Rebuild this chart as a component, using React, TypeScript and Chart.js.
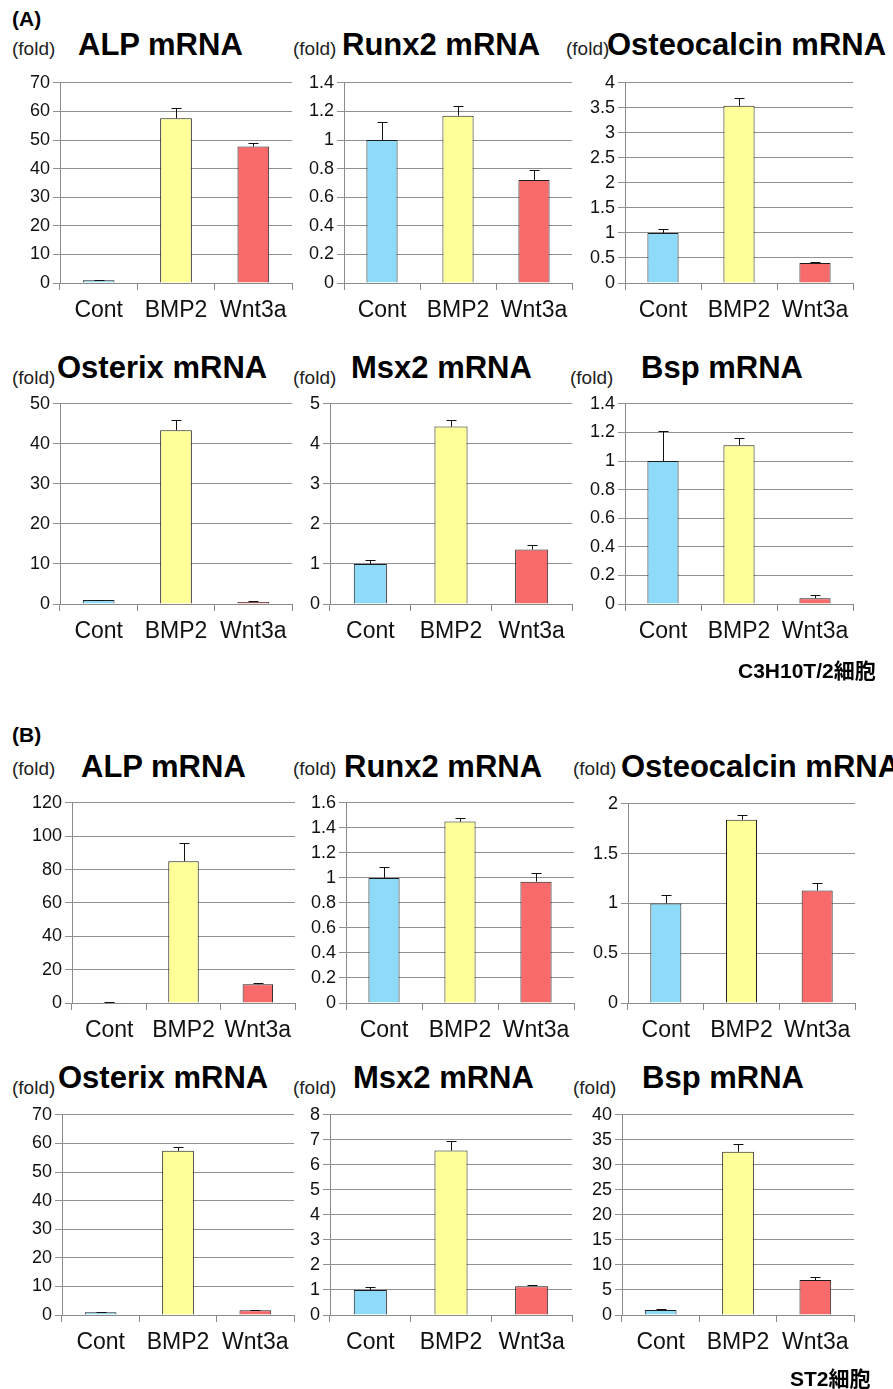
import React, { useEffect, useRef } from 'react';
import { Chart, registerables } from 'chart.js';

Chart.register(...registerables);

// ---------- data ----------
const categories = ['Cont', 'BMP2', 'Wnt3a'];
const barColors = ['#8DDBF8', '#FFFF99', '#F96B6B'];

// (A) C3H10T/2 cells
const alpA = [1.0, 57.6, 47.7];
const alpAErr = [0.2, 3.5, 1.3];
const runx2A = [1.0, 1.17, 0.72];
const runx2AErr = [0.125, 0.065, 0.07];
const osteocalcinA = [1.0, 3.54, 0.4];
const osteocalcinAErr = [0.08, 0.16, 0.02];
const osterixA = [1.0, 43.4, 0.5];
const osterixAErr = [0.1, 2.5, 0.2];
const msx2A = [1.0, 4.43, 1.36];
const msx2AErr = [0.1, 0.17, 0.12];
const bspA = [1.0, 1.11, 0.04];
const bspAErr = [0.21, 0.05, 0.02];

// (B) ST2 cells
const alpB = [0.5, 85.0, 11.2];
const alpBErr = [0.1, 11.0, 0.5];
const runx2B = [1.0, 1.45, 0.97];
const runx2BErr = [0.09, 0.03, 0.07];
const osteocalcinB = [1.0, 1.84, 1.13];
const osteocalcinBErr = [0.085, 0.05, 0.075];
const osterixB = [1.0, 57.4, 1.7];
const osterixBErr = [0.1, 1.4, 0.1];
const msx2B = [1.0, 6.57, 1.15];
const msx2BErr = [0.1, 0.4, 0.04];
const bspB = [1.0, 32.6, 7.0];
const bspBErr = [0.1, 1.6, 0.6];

// y-axis tick ranges
const yMaxA = [70, 1.4, 4, 50, 5, 1.4];
const yStepA = [10, 0.2, 0.5, 10, 1, 0.2];
const yMaxB = [120, 1.6, 2, 70, 8, 40];
const yStepB = [20, 0.2, 0.5, 10, 1, 5];

// ---------- layout ----------
type Box = { x0: number; x1: number; y0: number; y1: number };
const boxes: Box[] = [
  { x0: 60, x1: 292, y0: 81, y1: 283 },
  { x0: 344, x1: 572, y0: 81, y1: 283 },
  { x0: 625, x1: 853, y0: 81, y1: 283 },
  { x0: 60, x1: 292, y0: 402, y1: 604 },
  { x0: 330, x1: 572, y0: 402, y1: 604 },
  { x0: 625, x1: 853, y0: 402, y1: 604 },
  { x0: 72, x1: 295, y0: 801, y1: 1003 },
  { x0: 346, x1: 574, y0: 801, y1: 1003 },
  { x0: 628, x1: 855, y0: 802, y1: 1003 },
  { x0: 62, x1: 294, y0: 1113, y1: 1315 },
  { x0: 330, x1: 572, y0: 1113, y1: 1315 },
  { x0: 622, x1: 854, y0: 1113, y1: 1315 },
];

const panelValues = [alpA, runx2A, osteocalcinA, osterixA, msx2A, bspA, alpB, runx2B, osteocalcinB, osterixB, msx2B, bspB];
const panelErrors = [alpAErr, runx2AErr, osteocalcinAErr, osterixAErr, msx2AErr, bspAErr, alpBErr, runx2BErr, osteocalcinBErr, osterixBErr, msx2BErr, bspBErr];
const panelMax = [...yMaxA, ...yMaxB];
const panelStep = [...yStepA, ...yStepB];

const FONT = '"Liberation Sans", Arial, "Noto Sans CJK JP", sans-serif';

type Lbl = { t: string; x: number; y: number; s: number; b?: boolean };
const labels: Lbl[] = [
  { t: '(A)', x: 12, y: 18, s: 21, b: true },
  { t: '(fold)', x: 12, y: 48, s: 19 },
  { t: 'ALP mRNA', x: 78, y: 44, s: 31, b: true },
  { t: '(fold)', x: 293, y: 48, s: 19 },
  { t: 'Runx2 mRNA', x: 342, y: 44, s: 31, b: true },
  { t: '(fold)', x: 566, y: 48, s: 19 },
  { t: 'Osteocalcin mRNA', x: 607, y: 44, s: 31, b: true },
  { t: '(fold)', x: 12, y: 377, s: 19 },
  { t: 'Osterix mRNA', x: 57, y: 367, s: 31, b: true },
  { t: '(fold)', x: 293, y: 377, s: 19 },
  { t: 'Msx2 mRNA', x: 351, y: 367, s: 31, b: true },
  { t: '(fold)', x: 570, y: 377, s: 19 },
  { t: 'Bsp mRNA', x: 641, y: 367, s: 31, b: true },
  { t: 'C3H10T/2細胞', x: 738, y: 670, s: 21, b: true },
  { t: '(B)', x: 12, y: 734, s: 21, b: true },
  { t: '(fold)', x: 12, y: 768, s: 19 },
  { t: 'ALP mRNA', x: 81, y: 766, s: 31, b: true },
  { t: '(fold)', x: 293, y: 768, s: 19 },
  { t: 'Runx2 mRNA', x: 344, y: 766, s: 31, b: true },
  { t: '(fold)', x: 573, y: 768, s: 19 },
  { t: 'Osteocalcin mRNA', x: 621, y: 766, s: 31, b: true },
  { t: '(fold)', x: 12, y: 1087, s: 19 },
  { t: 'Osterix mRNA', x: 58, y: 1077, s: 31, b: true },
  { t: '(fold)', x: 293, y: 1087, s: 19 },
  { t: 'Msx2 mRNA', x: 353, y: 1077, s: 31, b: true },
  { t: '(fold)', x: 573, y: 1087, s: 19 },
  { t: 'Bsp mRNA', x: 642, y: 1077, s: 31, b: true },
  { t: 'ST2細胞', x: 790, y: 1378, s: 21, b: true },
];

const PADL = 60;
const PADT = 12;
const PADR = 12;
const PADB = 48;

function fmt(v: number | string) {
  const n = Number(v);
  return String(Number(n.toFixed(3)));
}

function makeErrorPlugin(errors: number[]) {
  return {
    id: 'errorBars',
    afterDatasetsDraw(chart: any) {
      const meta = chart.getDatasetMeta(0);
      const ys = chart.scales.y;
      const ctx = chart.ctx;
      const vals = chart.data.datasets[0].data as number[];
      ctx.save();
      ctx.strokeStyle = '#111';
      ctx.lineWidth = 1;
      meta.data.forEach((bar: any, i: number) => {
        const e = errors[i];
        if (!e) return;
        const x = Math.round(bar.x) + 0.5;
        const yTop = ys.getPixelForValue(vals[i]);
        const yErr = Math.round(ys.getPixelForValue(vals[i] + e)) + 0.5;
        ctx.beginPath();
        ctx.moveTo(x, yTop);
        ctx.lineTo(x, yErr);
        ctx.moveTo(x - 5, yErr);
        ctx.lineTo(x + 5, yErr);
        ctx.stroke();
      });
      ctx.restore();
    },
  };
}

function Panel({ idx }: { idx: number }) {
  const ref = useRef<HTMLCanvasElement>(null);
  const b = boxes[idx];
  const w = b.x1 - b.x0 + PADL + PADR;
  const h = b.y1 - b.y0 + PADT + PADB;
  useEffect(() => {
    if (!ref.current) return;
    const chart = new Chart(ref.current, {
      type: 'bar',
      data: {
        labels: categories,
        datasets: [
          {
            data: panelValues[idx],
            backgroundColor: barColors,
            borderColor: '#1e1e1e',
            borderWidth: 1,
            categoryPercentage: 1,
            barPercentage: 0.41,
          },
        ],
      },
      options: {
        responsive: false,
        animation: false,
        devicePixelRatio: 1,
        layout: { padding: { left: 0, top: PADT, right: PADR, bottom: 0 } },
        plugins: { legend: { display: false }, tooltip: { enabled: false }, title: { display: false } },
        scales: {
          x: {
            offset: true,
            grid: { display: true, drawOnChartArea: false, drawTicks: true, tickLength: 7, color: '#8a8a8a', offset: true },
            border: { display: true, color: '#8a8a8a' },
            ticks: { font: { family: FONT, size: 23 }, color: '#111', padding: 7, maxRotation: 0, autoSkip: false },
            afterFit: (s: any) => {
              s.height = PADB;
            },
          },
          y: {
            min: 0,
            max: panelMax[idx],
            grid: { color: '#909090', tickLength: 7, drawTicks: true },
            border: { display: true, color: '#8a8a8a' },
            ticks: {
              stepSize: panelStep[idx],
              font: { family: FONT, size: 18 },
              color: '#111',
              padding: 3,
              callback: (v: any) => fmt(v),
            },
            afterFit: (s: any) => {
              s.width = PADL;
            },
          },
        },
      } as any,
      plugins: [makeErrorPlugin(panelErrors[idx])],
    });
    return () => chart.destroy();
  }, [idx]);
  return (
    <canvas
      ref={ref}
      width={w}
      height={h}
      style={{ position: 'absolute', left: b.x0 - PADL, top: b.y0 - PADT, width: w, height: h }}
    />
  );
}

export default function App() {
  return (
    <div
      style={{
        position: 'absolute',
        left: 0,
        top: 0,
        width: 893,
        height: 1389,
        overflow: 'hidden',
        background: '#fff',
        fontFamily: FONT,
      }}
    >
      {boxes.map((_, i) => (
        <Panel key={i} idx={i} />
      ))}
      {labels.map((l, i) => (
        <div
          key={'l' + i}
          style={{
            position: 'absolute',
            left: l.x,
            top: l.y - l.s / 2,
            fontSize: l.s,
            lineHeight: `${l.s}px`,
            fontWeight: l.b ? 700 : 400,
            color: l.b ? '#000' : '#222',
            whiteSpace: 'nowrap',
          }}
        >
          {l.t}
        </div>
      ))}
    </div>
  );
}
